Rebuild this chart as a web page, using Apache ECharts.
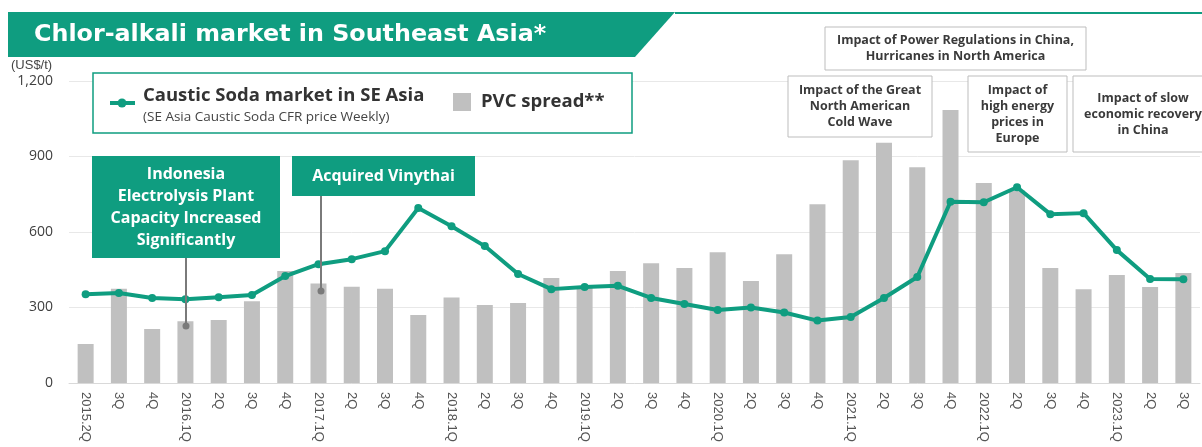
<!DOCTYPE html>
<html>
<head>
<meta charset="utf-8">
<style>
  html, body { margin: 0; padding: 0; background: #fff; }
  #chart { width: 1202px; height: 447px; }
</style>
<script src="https://cdn.jsdelivr.net/npm/echarts@6/dist/echarts.min.js"></script>
</head>
<body>
<div id="chart"></div>
<script>
// quarters, 2015.2Q .. 2023.3Q
const quarters = [
  "2015.2Q", "3Q", "4Q",
  "2016.1Q", "2Q", "3Q", "4Q",
  "2017.1Q", "2Q", "3Q", "4Q",
  "2018.1Q", "2Q", "3Q", "4Q",
  "2019.1Q", "2Q", "3Q", "4Q",
  "2020.1Q", "2Q", "3Q", "4Q",
  "2021.1Q", "2Q", "3Q", "4Q",
  "2022.1Q", "2Q", "3Q", "4Q",
  "2023.1Q", "2Q", "3Q"
];

// PVC spread (US$/t)
const pvcSpread = [
  155, 375, 215,
  245, 250, 325, 445,
  395, 382, 375, 270,
  340, 310, 318, 417,
  380, 445, 476, 457,
  520, 405, 512, 710,
  885, 955, 857, 1085,
  795, 765, 457, 373,
  429, 381, 437
];

// caustic soda CFR price, SE Asia (US$/t)
const causticSoda = [
  353, 358, 338,
  333, 341, 350, 425,
  472, 492, 524, 695,
  623, 544, 433, 373,
  381, 386, 338, 314,
  290, 300, 280, 248,
  262, 338, 421, 720,
  718, 778, 671, 675,
  528, 413, 412
];

const yTicks = [0, 300, 600, 900, 1200];

const green = "#0f9d80";
const barGray = "#c0c0c0";
const boldFont = "'Open Sans', 'Noto Sans', sans-serif";

const chart = echarts.init(document.getElementById("chart"));

// white box with grey border + centered bold text
function noteBox(x, y, w, h, text) {
  return [
    {
      type: "rect",
      shape: { x: x, y: y, width: w, height: h },
      style: { fill: "#fff", stroke: "#bdbdbd", lineWidth: 1 },
      z: 10
    },
    {
      type: "text",
      x: x + w / 2,
      y: y + h / 2,
      style: {
        text: text,
        fill: "#3a3a3a",
        font: "bold 12.5px " + boldFont,
        align: "center",
        verticalAlign: "middle",
        lineHeight: 16
      },
      z: 11
    }
  ];
}

// green box + pointer line to a dot
function greenNote(x, y, w, h, text, lineX, dotY) {
  return [
    {
      type: "line",
      shape: { x1: lineX, y1: y + h, x2: lineX, y2: dotY },
      style: { stroke: "#7a7a7a", lineWidth: 2 },
      z: 9
    },
    {
      type: "circle",
      shape: { cx: lineX, cy: dotY, r: 3.5 },
      style: { fill: "#7a7a7a" },
      z: 9
    },
    {
      type: "rect",
      shape: { x: x, y: y, width: w, height: h },
      style: { fill: green },
      z: 10
    },
    {
      type: "text",
      x: x + w / 2,
      y: y + h / 2,
      style: {
        text: text,
        fill: "#fff",
        font: "bold 16px " + boldFont,
        align: "center",
        verticalAlign: "middle",
        lineHeight: 22
      },
      z: 11
    }
  ];
}

const graphics = [
  // title banner
  {
    type: "polygon",
    shape: { points: [[8, 12], [675, 12], [635, 57], [8, 57]] },
    style: { fill: green },
    z: 10
  },
  {
    type: "rect",
    shape: { x: 675, y: 12, width: 530, height: 2 },
    style: { fill: green },
    z: 10
  },
  {
    type: "text",
    x: 34,
    y: 35,
    style: {
      text: "Chlor-alkali market in Southeast Asia*",
      fill: "#fff",
      font: "bold 23.8px 'DejaVu Sans', sans-serif",
      verticalAlign: "middle"
    },
    z: 11
  },
  // unit
  {
    type: "text",
    x: 11,
    y: 65,
    style: {
      text: "(US$/t)",
      fill: "#444",
      font: "13px 'Liberation Sans', Arial, sans-serif",
      verticalAlign: "middle"
    },
    z: 11
  },
  // legend box
  {
    type: "rect",
    shape: { x: 93, y: 73, width: 539, height: 60 },
    style: { fill: "#fff", stroke: green, lineWidth: 1.5 },
    z: 10
  },
  {
    type: "line",
    shape: { x1: 110, y1: 103, x2: 135, y2: 103 },
    style: { stroke: green, lineWidth: 4 },
    z: 11
  },
  {
    type: "circle",
    shape: { cx: 122, cy: 103, r: 4.5 },
    style: { fill: green },
    z: 11
  },
  {
    type: "text",
    x: 143,
    y: 96,
    style: {
      text: "Caustic Soda market in SE Asia",
      fill: "#333",
      font: "bold 18.5px " + boldFont,
      verticalAlign: "middle"
    },
    z: 11
  },
  {
    type: "text",
    x: 143,
    y: 117,
    style: {
      text: "(SE Asia Caustic Soda CFR price Weekly)",
      fill: "#444",
      font: "13.5px " + boldFont,
      verticalAlign: "middle"
    },
    z: 11
  },
  {
    type: "rect",
    shape: { x: 453, y: 93, width: 18, height: 18 },
    style: { fill: barGray },
    z: 11
  },
  {
    type: "text",
    x: 481,
    y: 102,
    style: {
      text: "PVC spread**",
      fill: "#333",
      font: "bold 18.5px " + boldFont,
      verticalAlign: "middle"
    },
    z: 11
  }
]
  .concat(greenNote(92, 156, 188, 102,
    "Indonesia\nElectrolysis Plant\nCapacity Increased\nSignificantly", 186, 326))
  .concat(greenNote(292, 156, 183, 40, "Acquired Vinythai", 321, 291))
  .concat(noteBox(825, 27, 261, 43,
    "Impact of Power Regulations in China,\nHurricanes in North America"))
  .concat(noteBox(788, 76, 144, 61,
    "Impact of the Great\nNorth American\nCold Wave"))
  .concat(noteBox(968, 76, 99, 76,
    "Impact of\nhigh energy\nprices in\nEurope"))
  .concat(noteBox(1073, 76, 140, 76,
    "Impact of slow\neconomic recovery\nin China"));

chart.setOption({
  animation: false,
  grid: {
    left: 69,
    right: 2,
    top: 81,
    bottom: 64
  },
  xAxis: {
    type: "category",
    data: quarters,
    axisTick: { show: false },
    axisLine: { lineStyle: { color: "#d9d9d9", width: 1 } },
    axisLabel: {
      interval: 0,
      rotate: -90,
      margin: 9,
      fontSize: 13,
      color: "#555",
      fontFamily: "'Liberation Sans', Arial, sans-serif"
    }
  },
  yAxis: {
    type: "value",
    min: yTicks[0],
    max: yTicks[yTicks.length - 1],
    interval: yTicks[1] - yTicks[0],
    axisLine: { show: false },
    axisTick: { show: false },
    splitLine: { lineStyle: { color: "#e8e8e8" } },
    axisLabel: {
      margin: 16,
      fontSize: 14,
      color: "#404040",
      fontFamily: "'Open Sans', sans-serif",
      formatter: v => v.toLocaleString("en-US")
    }
  },
  series: [
    {
      name: "PVC spread**",
      type: "bar",
      data: pvcSpread,
      barWidth: 16,
      itemStyle: { color: barGray },
      z: 2
    },
    {
      name: "Caustic Soda market in SE Asia",
      type: "line",
      data: causticSoda,
      symbol: "circle",
      symbolSize: 8,
      lineStyle: { color: green, width: 4 },
      itemStyle: { color: green },
      z: 3
    }
  ],
  graphic: graphics
});
</script>
</body>
</html>
